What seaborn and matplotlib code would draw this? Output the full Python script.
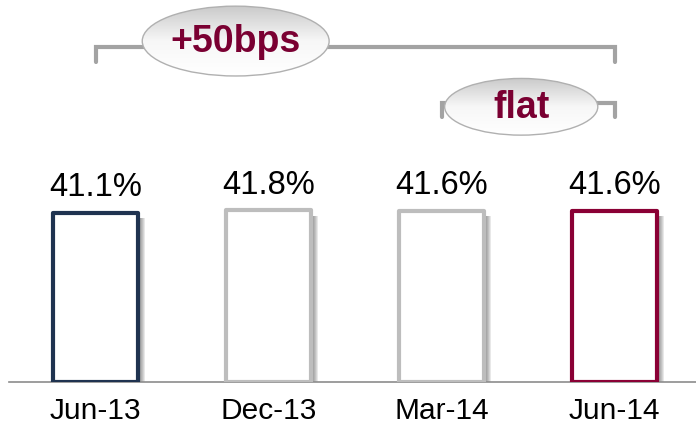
import numpy as np
import pandas as pd
import seaborn as sns
import matplotlib.pyplot as plt
import matplotlib.transforms as mtransforms
from matplotlib.patches import Ellipse, Rectangle

# --- DATA ---
periods = ["Jun-13", "Dec-13", "Mar-14", "Jun-14"]
ratios = [41.1, 41.8, 41.6, 41.6]
bar_colors = ["#1F3350", "#BDBDBD", "#BDBDBD", "#8A0035"]

# bracket annotations: (from category, to category, label)
brackets = [(0, 3, "+50bps"), (2, 3, "flat")]

MAROON = "#7A0032"
BRACKET_GREY = "#A3A3A3"

sns.set_theme(style="white")
plt.rcParams["font.family"] = ["Liberation Sans", "DejaVu Sans"]

df = pd.DataFrame({"period": periods, "ratio": ratios})

fig = plt.figure(figsize=(6.96, 4.32), dpi=100)
ax = fig.add_axes([9 / 696, 50 / 432, 687 / 696, 382 / 432])

sns.barplot(
    data=df, x="period", y="ratio", hue="period",
    palette=bar_colors, saturation=1, width=0.49,
    legend=False, ax=ax,
)

# hollow bars with coloured outline + soft drop shadow
for p in list(ax.patches):
    col = p.get_facecolor()
    for k in [2, 3, 4, 5, 6, 7]:
        off = mtransforms.offset_copy(ax.transData, fig=fig, x=k * 0.72, y=-2 * 0.72, units="points")
        sh = Rectangle(p.get_xy(), p.get_width(), p.get_height() - 0.8, transform=off,
                       facecolor="#505050", edgecolor="none", alpha=0.13, zorder=1)
        ax.add_patch(sh)
    p.set_facecolor("white")
    p.set_edgecolor(col)
    p.set_linewidth(3)
    p.set_joinstyle("round")
    p.set_zorder(3)

for cont in ax.containers:
    ax.bar_label(cont, fmt="%.1f%%", padding=7, fontsize=23.5, color="black")

# brackets with ellipse labels
bracket_y = [81.6, 67.9]
tick_drop = [3.8, 3.5]
ell_x = [0.81, 2.46]
ell_y = [83.0, 67.0]
ell_w = [1.08, 0.885]
ell_h = [17.0, 13.8]

grad = np.linspace(0, 1, 256).reshape(-1, 1)
for i, (a, b, lab) in enumerate(brackets):
    y = bracket_y[i]
    ax.plot([a, a, b, b], [y - tick_drop[i], y, y, y - tick_drop[i]],
            color=BRACKET_GREY, lw=3, solid_joinstyle="miter", clip_on=False, zorder=4)
    ell = Ellipse((ell_x[i], ell_y[i]), ell_w[i], ell_h[i], facecolor="none",
                  edgecolor="#B0B0B0", lw=1.0, zorder=6)
    ax.add_patch(ell)
    im = ax.imshow(grad, cmap=sns.blend_palette(["#FFFFFF", "#F7F7F7", "#CACACA"], as_cmap=True),
                   extent=[ell_x[i] - ell_w[i] / 2, ell_x[i] + ell_w[i] / 2,
                           ell_y[i] + ell_h[i] / 2, ell_y[i] - ell_h[i] / 2],
                   aspect="auto", zorder=5)
    im.set_clip_path(ell)
    ax.text(ell_x[i], ell_y[i] - 0.3, lab, ha="center", va="center", fontsize=27,
            fontweight="bold", color=MAROON, zorder=7)

ax.set_xlim(-0.5, 3.47)
ax.set_ylim(0, 93)

# axis styling
for s in ["left", "top", "right"]:
    ax.spines[s].set_visible(False)
ax.spines["bottom"].set_color("#8C8C8C")
ax.spines["bottom"].set_linewidth(1.2)
ax.set_yticks([])
ax.set_xlabel("")
ax.set_ylabel("")
ax.set_xticks(range(len(periods)))
ax.set_xticklabels(periods)
ax.tick_params(axis="x", which="major", length=0, pad=11, labelsize=21.5, labelcolor="black")
ax.set_xticks([-0.5, 0.5, 1.5, 2.5], minor=True)
ax.tick_params(axis="x", which="minor", length=8, width=1.2, color="#8C8C8C", direction="out")

fig.savefig("out.png", dpi=100, facecolor="white")
